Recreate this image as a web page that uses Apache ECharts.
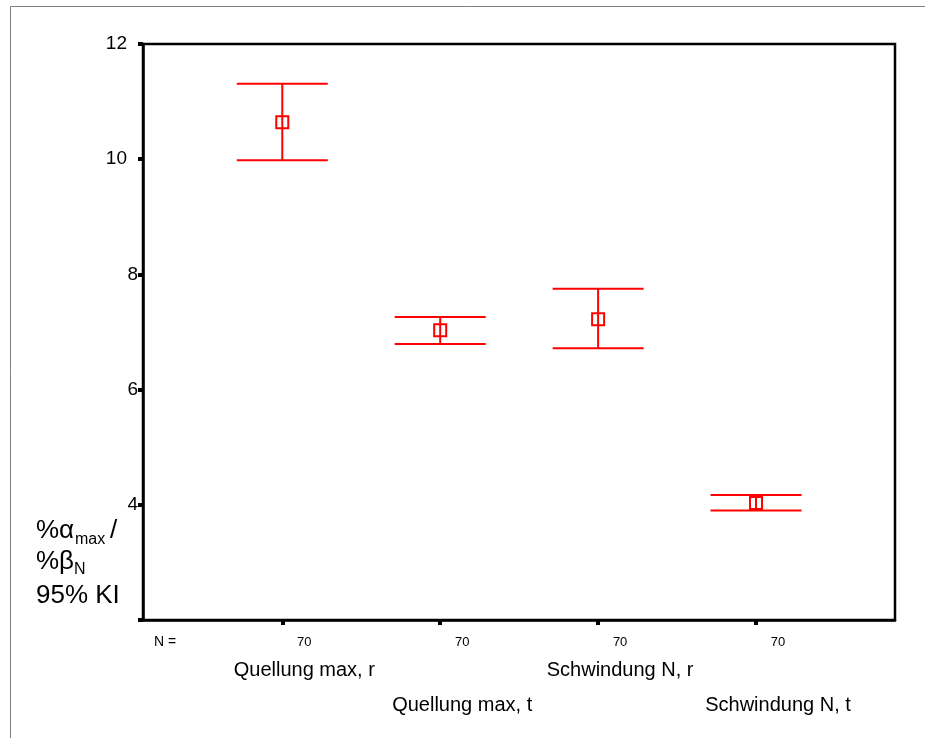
<!DOCTYPE html>
<html>
<head>
<meta charset="utf-8">
<script src="https://cdn.jsdelivr.net/npm/echarts@6/dist/echarts.min.js"></script>
<style>
  html, body { margin: 0; padding: 0; background: #fff; }
  #chart { width: 925px; height: 738px; }
</style>
</head>
<body>
<div id="chart"></div>
<script>
// Groups and their sample sizes
const categories = ['Quellung max, r', 'Quellung max, t', 'Schwindung N, r', 'Schwindung N, t'];
const sampleSizes = [70, 70, 70, 70];

// Mean and 95% confidence interval per group
const means = [10.64, 7.03, 7.22, 4.03];
const lower = [9.98, 6.79, 6.72, 3.90];
const upper = [11.31, 7.26, 7.75, 4.17];

// Value axis ticks
const yTicks = [2, 4, 6, 8, 10, 12];

const FONT = "'Liberation Sans', Arial, sans-serif";
const RED = '#ff0000';

const positions = categories.map((_, i) => i + 1);
const seriesData = categories.map((_, i) => [positions[i], means[i], lower[i], upper[i]]);

const chart = echarts.init(document.getElementById('chart'), null, { renderer: 'canvas' });

// Mean marker (open square) with a capped 95% interval bar
function renderErrorBar(params, api) {
  const x = api.value(0);
  const pMean = api.coord([x, api.value(1)]);
  const pLo = api.coord([x, api.value(2)]);
  const pHi = api.coord([x, api.value(3)]);
  const capHalf = 45.5;
  const sq = 12;
  const style = { stroke: RED, lineWidth: 2, fill: null };
  return {
    type: 'group',
    children: [
      { type: 'line', shape: { x1: pHi[0], y1: pHi[1], x2: pLo[0], y2: pLo[1] }, style },
      { type: 'line', shape: { x1: pHi[0] - capHalf, y1: pHi[1], x2: pHi[0] + capHalf, y2: pHi[1] }, style },
      { type: 'line', shape: { x1: pLo[0] - capHalf, y1: pLo[1], x2: pLo[0] + capHalf, y2: pLo[1] }, style },
      { type: 'rect', shape: { x: pMean[0] - sq / 2, y: pMean[1] - sq / 2, width: sq, height: sq },
        style: { stroke: RED, lineWidth: 2, fill: 'rgba(0,0,0,0)' } }
    ]
  };
}

// Y-axis title pieces (main text and subscripts)
function titleText(text, x, y, size) {
  return {
    type: 'text', x: x, y: y, silent: true,
    style: { text: text, font: size + 'px ' + FONT, fill: '#000', verticalAlign: 'middle' }
  };
}

const option = {
  backgroundColor: '#fff',
  animation: false,
  grid: {
    left: 143, top: 44, width: 752, height: 576,
    show: true, borderColor: '#000', borderWidth: 2.5, backgroundColor: 'transparent'
  },
  xAxis: {
    type: 'value',
    min: 0.118,
    max: 4.88,
    splitLine: { show: false },
    axisLine: { lineStyle: { color: '#000', width: 2.5 } },
    axisTick: { show: true, customValues: positions, length: 5, lineStyle: { color: '#000', width: 4 } },
    axisLabel: {
      customValues: positions,
      margin: 12,
      padding: [0, 0, 0, 44],
      fontFamily: FONT,
      color: '#000',
      formatter: function (v) {
        const i = Math.round(v) - 1;
        if (i < 0 || i >= categories.length) return '';
        return '{n|' + sampleSizes[i] + '}\n' + (i % 2 ? '{sp| }\n' : '') + '{c|' + categories[i] + '}';
      },
      rich: {
        n: { fontSize: 13, lineHeight: 20, fontFamily: FONT, color: '#000' },
        sp: { fontSize: 10, lineHeight: 35 },
        c: { fontSize: 20, lineHeight: 36, fontFamily: FONT, color: '#000' }
      }
    }
  },
  yAxis: {
    type: 'value',
    min: yTicks[0],
    max: yTicks[yTicks.length - 1],
    interval: 2,
    splitLine: { show: false },
    axisLine: { show: true, lineStyle: { color: '#000', width: 2.5 } },
    axisTick: { show: true, length: 5, lineStyle: { color: '#000', width: 4 } },
    axisLabel: {
      margin: 5,
      fontFamily: FONT,
      color: '#000',
      formatter: function (v) {
        if (v === yTicks[0]) return '';
        return v >= 10 ? '{w|' + v + '}' : '{d|' + v + '}';
      },
      rich: {
        w: { fontSize: 19, fontFamily: FONT, color: '#000', padding: [0, 11, 0, 0] },
        d: { fontSize: 19, fontFamily: FONT, color: '#000' }
      }
    }
  },
  graphic: [
    { type: 'polyline', silent: true,
      shape: { points: [[925, 6.5], [10.5, 6.5], [10.5, 738]] },
      style: { stroke: '#7f7f7f', lineWidth: 1, fill: null } },
    { type: 'text', x: 154, y: 642, silent: true,
      style: { text: 'N =', font: '14px ' + FONT, fill: '#000', verticalAlign: 'middle' } },
    titleText('%α', 36, 531, 26),
    titleText('max', 75, 540, 16),
    titleText('/', 110, 531, 26),
    titleText('%β', 36, 562, 26),
    titleText('N', 74, 570, 16),
    titleText('95% KI', 36, 596, 26)
  ],
  series: [{
    type: 'custom',
    renderItem: renderErrorBar,
    data: seriesData,
    encode: { x: 0, y: [1, 2, 3] },
    clip: false
  }]
};

chart.setOption(option);
</script>
</body>
</html>
